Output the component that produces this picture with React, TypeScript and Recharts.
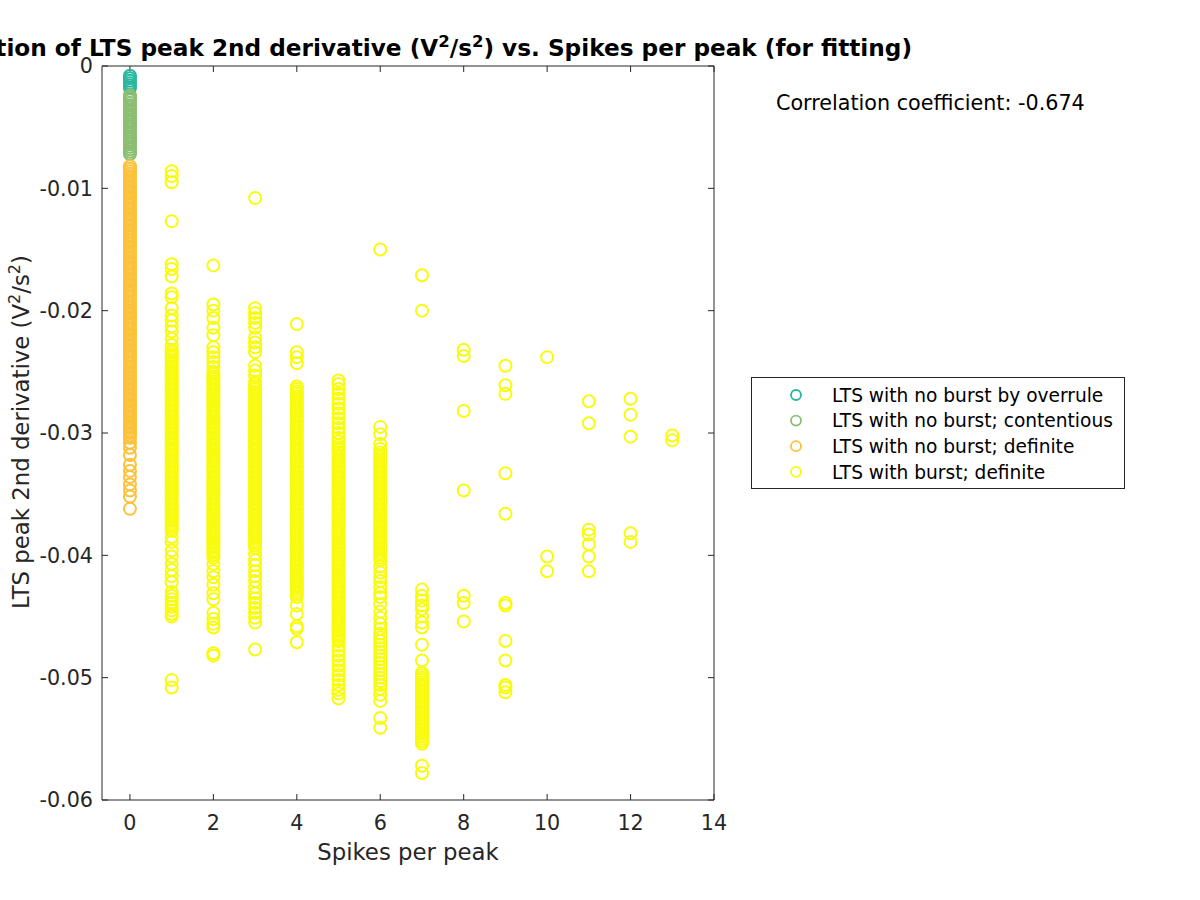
import React from 'react';
import { ScatterChart, Scatter, XAxis, YAxis } from 'recharts';

const seriesNames = [
  'LTS with no burst by overrule',
  'LTS with no burst; contentious',
  'LTS with no burst; definite',
  'LTS with burst; definite',
];
const seriesColors = ['#2ab7a0', '#8cbe72', '#fdc13a', '#f9fb0e'];

const xTicks = [0, 2, 4, 6, 8, 10, 12, 14];
const yTicks = [-0.06, -0.05, -0.04, -0.03, -0.02, -0.01, 0];

// x = 0 groups
const overruleSpikes0 = [-0.0008, -0.001, -0.0012, -0.0014, -0.0016, -0.0018];
const contentiousSpikes0 = [
  -0.0024, -0.0026, -0.0028, -0.003, -0.0032, -0.0034, -0.0036, -0.0038, -0.004, -0.0042,
  -0.0044, -0.0046, -0.0048, -0.005, -0.0052, -0.0054, -0.0056, -0.0058, -0.006, -0.0062,
  -0.0064, -0.0066, -0.0068, -0.007, -0.0072,
];
const noBurstSpikes0 = [
  -0.0082, -0.0084, -0.0086, -0.0088,
  -0.009, -0.0092, -0.0094, -0.0096, -0.0098,
  -0.01, -0.0102, -0.0104, -0.0106, -0.0108,
  -0.011, -0.0112, -0.0114, -0.0116, -0.0118,
  -0.012, -0.0122, -0.0124, -0.0126, -0.0128,
  -0.013, -0.0132, -0.0134, -0.0136, -0.0138,
  -0.014, -0.0142, -0.0144, -0.0146, -0.0148,
  -0.015, -0.0152, -0.0154, -0.0156, -0.0158,
  -0.016, -0.0162, -0.0164, -0.0166, -0.0168,
  -0.017, -0.0172, -0.0174, -0.0176, -0.0178,
  -0.018, -0.0182, -0.0184, -0.0186, -0.0188,
  -0.019, -0.0192, -0.0194, -0.0196, -0.0198,
  -0.02, -0.0202, -0.0204, -0.0206, -0.0208,
  -0.021, -0.0212, -0.0214, -0.0216, -0.0218,
  -0.022, -0.0222, -0.0224, -0.0226, -0.0228,
  -0.023, -0.0232, -0.0234, -0.0236, -0.0238,
  -0.024, -0.0242, -0.0244, -0.0246, -0.0248,
  -0.025, -0.0252, -0.0254, -0.0256, -0.0258,
  -0.026, -0.0262, -0.0264, -0.0266, -0.0268,
  -0.027, -0.0272, -0.0274, -0.0276, -0.0278,
  -0.028, -0.0282, -0.0284, -0.0286, -0.0288,
  -0.029, -0.0292, -0.0294, -0.0296, -0.0298,
  -0.03, -0.0302, -0.0304,
  -0.0308, -0.0312, -0.0318, -0.0326, -0.0331, -0.0336, -0.0342, -0.0347, -0.0352, -0.0362,
];

// bursts, one list per spike count
const burstSpikes1 = [
  -0.0086, -0.009, -0.0095, -0.0127, -0.0162, -0.0166, -0.0172, -0.0186, -0.0189, -0.0198,
  -0.0204, -0.0208, -0.0213, -0.0217, -0.0223, -0.0228,
  -0.0232, -0.0234, -0.0236, -0.0238,
  -0.024, -0.0242, -0.0244, -0.0246, -0.0248,
  -0.025, -0.0252, -0.0254, -0.0256, -0.0258,
  -0.026, -0.0262, -0.0264, -0.0266, -0.0268,
  -0.027, -0.0272, -0.0274, -0.0276, -0.0278,
  -0.028, -0.0282, -0.0284, -0.0286, -0.0288,
  -0.029, -0.0292, -0.0294, -0.0296, -0.0298,
  -0.03, -0.0302, -0.0304, -0.0306, -0.0308,
  -0.031, -0.0312, -0.0314, -0.0316, -0.0318,
  -0.032, -0.0322, -0.0324, -0.0326, -0.0328,
  -0.033, -0.0332, -0.0334, -0.0336, -0.0338,
  -0.034, -0.0342, -0.0344, -0.0346, -0.0348,
  -0.035, -0.0352, -0.0354, -0.0356, -0.0358,
  -0.036, -0.0362, -0.0364, -0.0366, -0.0368,
  -0.037, -0.0372, -0.0374, -0.0376, -0.0378,
  -0.038,
  -0.0385, -0.0389, -0.0396, -0.0401, -0.0407, -0.0412, -0.0417, -0.0422, -0.043, -0.0433,
  -0.0436, -0.0439, -0.0442, -0.0445, -0.0448, -0.045, -0.0502, -0.0508,
];
const burstSpikes2 = [
  -0.0163, -0.0195, -0.02, -0.0206, -0.0214, -0.022, -0.023, -0.0234, -0.0238, -0.0242, -0.0246,
  -0.025, -0.0252, -0.0254, -0.0256, -0.0258,
  -0.026, -0.0262, -0.0264, -0.0266, -0.0268,
  -0.027, -0.0272, -0.0274, -0.0276, -0.0278,
  -0.028, -0.0282, -0.0284, -0.0286, -0.0288,
  -0.029, -0.0292, -0.0294, -0.0296, -0.0298,
  -0.03, -0.0302, -0.0304, -0.0306, -0.0308,
  -0.031, -0.0312, -0.0314, -0.0316, -0.0318,
  -0.032, -0.0322, -0.0324, -0.0326, -0.0328,
  -0.033, -0.0332, -0.0334, -0.0336, -0.0338,
  -0.034, -0.0342, -0.0344, -0.0346, -0.0348,
  -0.035, -0.0352, -0.0354, -0.0356, -0.0358,
  -0.036, -0.0362, -0.0364, -0.0366, -0.0368,
  -0.037, -0.0372, -0.0374, -0.0376, -0.0378,
  -0.038, -0.0382, -0.0384, -0.0386, -0.0388,
  -0.039, -0.0392, -0.0394, -0.0396, -0.0398,
  -0.04, -0.0402,
  -0.0407, -0.0413, -0.0418, -0.0424, -0.0431, -0.0436, -0.0447, -0.0452, -0.0456, -0.0459,
  -0.048, -0.0482,
];
const burstSpikes3 = [
  -0.0108, -0.0198, -0.0202, -0.0206, -0.021, -0.0214, -0.0222, -0.0226, -0.023, -0.0234,
  -0.0245, -0.0249, -0.0253, -0.0258,
  -0.026, -0.0262, -0.0264, -0.0266, -0.0268,
  -0.027, -0.0272, -0.0274, -0.0276, -0.0278,
  -0.028, -0.0282, -0.0284, -0.0286, -0.0288,
  -0.029, -0.0292, -0.0294, -0.0296, -0.0298,
  -0.03, -0.0302, -0.0304, -0.0306, -0.0308,
  -0.031, -0.0312, -0.0314, -0.0316, -0.0318,
  -0.032, -0.0322, -0.0324, -0.0326, -0.0328,
  -0.033, -0.0332, -0.0334, -0.0336, -0.0338,
  -0.034, -0.0342, -0.0344, -0.0346, -0.0348,
  -0.035, -0.0352, -0.0354, -0.0356, -0.0358,
  -0.036, -0.0362, -0.0364, -0.0366, -0.0368,
  -0.037, -0.0372, -0.0374, -0.0376, -0.0378,
  -0.038, -0.0382, -0.0384, -0.0386, -0.0388,
  -0.039, -0.0392, -0.0394,
  -0.0399, -0.0404, -0.0408, -0.0413, -0.0417, -0.0421, -0.0426, -0.0431, -0.0435, -0.0439,
  -0.0443, -0.0447, -0.0451, -0.0455, -0.0477,
];
const burstSpikes4 = [
  -0.0211, -0.0234, -0.0238, -0.0243,
  -0.0262, -0.0264, -0.0266, -0.0268,
  -0.027, -0.0272, -0.0274, -0.0276, -0.0278,
  -0.028, -0.0282, -0.0284, -0.0286, -0.0288,
  -0.029, -0.0292, -0.0294, -0.0296, -0.0298,
  -0.03, -0.0302, -0.0304, -0.0306, -0.0308,
  -0.031, -0.0312, -0.0314, -0.0316, -0.0318,
  -0.032, -0.0322, -0.0324, -0.0326, -0.0328,
  -0.033, -0.0332, -0.0334, -0.0336, -0.0338,
  -0.034, -0.0342, -0.0344, -0.0346, -0.0348,
  -0.035, -0.0352, -0.0354, -0.0356, -0.0358,
  -0.036, -0.0362, -0.0364, -0.0366, -0.0368,
  -0.037, -0.0372, -0.0374, -0.0376, -0.0378,
  -0.038, -0.0382, -0.0384, -0.0386, -0.0388,
  -0.039, -0.0392, -0.0394, -0.0396, -0.0398,
  -0.04, -0.0402, -0.0404, -0.0406, -0.0408,
  -0.041, -0.0412, -0.0414, -0.0416, -0.0418,
  -0.042, -0.0422, -0.0424, -0.0426, -0.0428,
  -0.043, -0.0432, -0.0434,
  -0.0441, -0.0448, -0.0458, -0.046, -0.0471,
];
const burstSpikes5 = [
  -0.0257, -0.026, -0.0264, -0.0268, -0.0272, -0.0276, -0.028, -0.0284, -0.0288, -0.0292,
  -0.0296, -0.03, -0.0304, -0.0307,
  -0.031, -0.0312, -0.0314, -0.0316, -0.0318,
  -0.032, -0.0322, -0.0324, -0.0326, -0.0328,
  -0.033, -0.0332, -0.0334, -0.0336, -0.0338,
  -0.034, -0.0342, -0.0344, -0.0346, -0.0348,
  -0.035, -0.0352, -0.0354, -0.0356, -0.0358,
  -0.036, -0.0362, -0.0364, -0.0366, -0.0368,
  -0.037, -0.0372, -0.0374, -0.0376, -0.0378,
  -0.038, -0.0382, -0.0384, -0.0386, -0.0388,
  -0.039, -0.0392, -0.0394, -0.0396, -0.0398,
  -0.04, -0.0402, -0.0404, -0.0406, -0.0408,
  -0.041, -0.0412, -0.0414, -0.0416, -0.0418,
  -0.042, -0.0422, -0.0424, -0.0426, -0.0428,
  -0.043, -0.0432, -0.0434, -0.0436, -0.0438,
  -0.044, -0.0442, -0.0444, -0.0446, -0.0448,
  -0.045, -0.0452, -0.0454, -0.0456, -0.0458,
  -0.046, -0.0462, -0.0464, -0.0466, -0.0468,
  -0.047,
  -0.0474, -0.0478, -0.0482, -0.0486, -0.049, -0.0494, -0.0498, -0.0502, -0.0506, -0.051,
  -0.0513, -0.0517,
];
const burstSpikes6 = [
  -0.015, -0.0295, -0.0301, -0.0309, -0.0313,
  -0.0316, -0.0318,
  -0.032, -0.0322, -0.0324, -0.0326, -0.0328,
  -0.033, -0.0332, -0.0334, -0.0336, -0.0338,
  -0.034, -0.0342, -0.0344, -0.0346, -0.0348,
  -0.035, -0.0352, -0.0354, -0.0356, -0.0358,
  -0.036, -0.0362, -0.0364, -0.0366, -0.0368,
  -0.037, -0.0372, -0.0374, -0.0376, -0.0378,
  -0.038, -0.0382, -0.0384, -0.0386, -0.0388,
  -0.039, -0.0392, -0.0394, -0.0396, -0.0398,
  -0.04, -0.0402, -0.0404,
  -0.0409, -0.0414, -0.0418, -0.0421, -0.0426, -0.0431, -0.0434, -0.044, -0.0446, -0.0451,
  -0.0456, -0.046, -0.0464, -0.0467, -0.047, -0.0473, -0.0476, -0.0479, -0.0482, -0.0485,
  -0.0488, -0.0491, -0.0494, -0.0497, -0.05, -0.0503, -0.0506, -0.0509, -0.0514, -0.0519,
  -0.0533, -0.0541,
];
const burstSpikes7 = [
  -0.0171, -0.02, -0.0428, -0.0433, -0.0437, -0.0441, -0.0444, -0.045, -0.0455, -0.0459,
  -0.0473, -0.0486,
  -0.0496, -0.0498,
  -0.05, -0.0502, -0.0504, -0.0506, -0.0508,
  -0.051, -0.0512, -0.0514, -0.0516, -0.0518,
  -0.052, -0.0522, -0.0524, -0.0526, -0.0528,
  -0.053, -0.0532, -0.0534, -0.0536, -0.0538,
  -0.054, -0.0542, -0.0544, -0.0546, -0.0548,
  -0.055, -0.0552, -0.0554,
  -0.0572, -0.0578,
];
const burstSpikes8 = [-0.0232, -0.0237, -0.0282, -0.0347, -0.0433, -0.0439, -0.0454];
const burstSpikes9 = [
  -0.0245, -0.0261, -0.0268, -0.0333, -0.0366, -0.0439, -0.0441, -0.047, -0.0486, -0.0506,
  -0.0508, -0.0512,
];
const burstSpikes10 = [-0.0238, -0.0401, -0.0413];
const burstSpikes11 = [-0.0274, -0.0292, -0.0379, -0.0383, -0.0391, -0.0401, -0.0413];
const burstSpikes12 = [-0.0272, -0.0285, -0.0303, -0.0382, -0.0389];
const burstSpikes13 = [-0.0302, -0.0306];

const burstColumns: [number, number[]][] = [
  [1, burstSpikes1], [2, burstSpikes2], [3, burstSpikes3], [4, burstSpikes4],
  [5, burstSpikes5], [6, burstSpikes6], [7, burstSpikes7], [8, burstSpikes8],
  [9, burstSpikes9], [10, burstSpikes10], [11, burstSpikes11], [12, burstSpikes12],
  [13, burstSpikes13],
];

const toPoints = (x: number, ys: number[]) => ys.map((y) => ({ x, y }));

const seriesData = [
  toPoints(0, overruleSpikes0),
  toPoints(0, contentiousSpikes0),
  toPoints(0, noBurstSpikes0),
  burstColumns.flatMap(([x, ys]) => toPoints(x, ys)),
];

const FONT = "'DejaVu Sans', sans-serif";
const AX = '#262626';

const ring = (color: string) => (props: any) => (
  <circle cx={props.cx} cy={props.cy} r={6} fill="none" stroke={color} strokeWidth={2} />
);

const fmtY = (v: number) => (Math.abs(v) < 1e-12 ? '0' : v.toFixed(2));

export default function App() {
  const axisCommon = {
    axisLine: { stroke: AX, strokeWidth: 1 },
    tickLine: { stroke: AX, strokeWidth: 1 },
    tickSize: -6,
    interval: 0 as const,
    allowDataOverflow: true,
  };
  return (
    <div style={{ position: 'absolute', left: 0, top: 0, width: 1200, height: 900, background: '#fff', fontFamily: FONT }}>
      <ScatterChart width={1200} height={900} margin={{ top: 65, right: 485, bottom: 60, left: 0 }}>
        <XAxis
          xAxisId="b"
          type="number"
          dataKey="x"
          domain={[-0.67, 14]}
          ticks={xTicks}
          height={40}
          tickMargin={21}
          tick={{ fontSize: 20.7, fill: AX, fontFamily: FONT }}
          {...axisCommon}
        />
        <XAxis
          xAxisId="t"
          orientation="top"
          type="number"
          dataKey="x"
          domain={[-0.67, 14]}
          ticks={xTicks}
          height={1}
          tickFormatter={() => ''}
          {...axisCommon}
        />
        <YAxis
          yAxisId="l"
          type="number"
          dataKey="y"
          domain={[-0.06, 0]}
          ticks={yTicks}
          width={102}
          tickMargin={15}
          tickFormatter={fmtY}
          tick={{ fontSize: 20.7, fill: AX, fontFamily: FONT }}
          {...axisCommon}
        />
        <YAxis
          yAxisId="r"
          orientation="right"
          type="number"
          dataKey="y"
          domain={[-0.06, 0]}
          ticks={yTicks}
          width={1}
          tickFormatter={() => ''}
          {...axisCommon}
        />
        {seriesData.map((d, i) => (
          <Scatter
            key={seriesNames[i]}
            name={seriesNames[i]}
            xAxisId="b"
            yAxisId="l"
            data={d}
            shape={ring(seriesColors[i])}
            isAnimationActive={false}
          />
        ))}
      </ScatterChart>
      <svg
        width={1200}
        height={900}
        style={{ position: 'absolute', left: 0, top: 0, pointerEvents: 'none' }}
        fontFamily={FONT}
      >
        <text x={912} y={56} textAnchor="end" fontSize={23.2} fontWeight="bold" fill="#000">
          Correlation of LTS peak 2nd derivative (V
          <tspan dy={-9} fontSize={16.5}>2</tspan>
          <tspan dy={9}>/s</tspan>
          <tspan dy={-9} fontSize={16.5}>2</tspan>
          <tspan dy={9}>) vs. Spikes per peak (for fitting)</tspan>
        </text>
        <text transform="translate(29,432) rotate(-90)" textAnchor="middle" fontSize={22.8} fill={AX}>
          LTS peak 2nd derivative (V
          <tspan dy={-9} fontSize={16}>2</tspan>
          <tspan dy={9}>/s</tspan>
          <tspan dy={-9} fontSize={16}>2</tspan>
          <tspan dy={9}>)</tspan>
        </text>
        <text x={408} y={860} textAnchor="middle" fontSize={22.8} fill={AX}>
          Spikes per peak
        </text>
        <text x={776} y={110} fontSize={20.7} fill="#000">
          Correlation coefficient: -0.674
        </text>
        <rect x={751.5} y={377.5} width={373} height={111} fill="#fff" stroke={AX} strokeWidth={1} />
        {seriesNames.map((n, i) => (
          <g key={n}>
            <circle cx={796} cy={395 + i * 25.6} r={5} fill="none" stroke={seriesColors[i]} strokeWidth={1.8} />
            <text x={832} y={395 + i * 25.6 + 6.8} fontSize={18.6} fill="#000">
              {n}
            </text>
          </g>
        ))}
      </svg>
    </div>
  );
}
